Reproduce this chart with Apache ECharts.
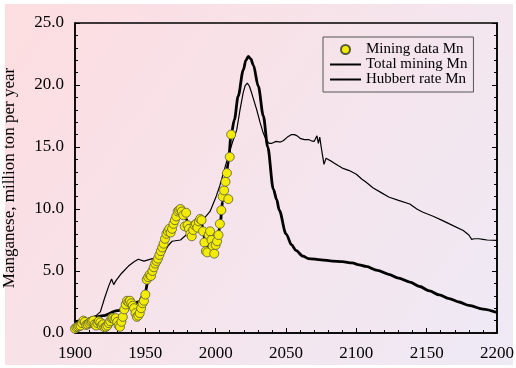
<!DOCTYPE html>
<html>
<head>
<meta charset="utf-8">
<script src="https://cdn.jsdelivr.net/npm/echarts@6/dist/echarts.min.js"></script>
<style>
html,body{margin:0;padding:0;background:#fff;}
#chart{width:516px;height:368px;}
</style>
</head>
<body>
<div id="chart"></div>
<script>
// Mining data Mn: one value per year starting at miningStartYear
const miningStartYear = 1900;
const miningValues = [
  0.35,0.45,0.5,0.55,0.6,0.8,1.0,0.9,0.65,0.7,
  0.8,0.9,0.95,1.0,0.7,0.6,0.8,0.95,0.85,0.6,
  0.7,0.45,0.5,0.6,0.8,0.95,1.2,1.2,1.1,1.2,
  0.9,0.6,0.5,0.9,1.3,1.9,2.3,2.6,2.5,2.6,
  2.4,2.2,2.0,1.6,1.3,1.4,1.6,2.0,2.4,2.6,
  3.1,4.3,4.5,4.7,4.6,5.0,5.3,5.6,5.8,6.0,
  6.3,6.6,6.9,7.2,7.6,8.0,8.2,8.4,8.1,8.4,
  8.8,9.1,9.4,9.8,9.9,10.0,9.8,9.5,8.6,9.7,
  8.7,8.4,8.0,7.8,8.3,8.7,8.8,8.5,9.0,9.2,
  9.1,8.2,7.3,6.6,6.5,7.9,8.2,7.5,7.0,6.4,
  7.1,7.4,7.9,8.8,9.9,11.0,11.5,12.2,12.9,10.8,
  14.2,16.0
];

// Total mining Mn (thin line)
const totalYears = [1900,1905,1910,1915,1918,1921,1924,1926,1927.5,1929,1933,1938,1942,1945,1949,1952,1955,1960,1963,1966,1969,1975,1980,1985,1990,1996,2000,2003,2006,2009,2012,2015,2017.3,2019.6,2021,2022.5,2024,2025.6,2029.2,2031.5,2033.9,2035.8,2038,2040,2043,2046,2048,2051,2054,2056,2058,2060,2063,2066,2068,2070,2071,2072,2073,2074,2075,2076,2077,2078.5,2080,2083,2087,2090,2095,2100,2104,2107,2112,2118,2123,2130,2138,2143,2147,2155,2161,2168,2176,2180,2182,2184,2187,2190,2193,2200];
const totalValues = [0.8,1.0,1.2,1.4,1.7,2.8,3.8,4.35,3.9,4.2,4.8,5.4,5.75,5.95,5.8,5.9,6.0,6.0,6.4,7.0,7.4,7.5,8.0,8.3,9.0,9.8,10.9,11.9,13.1,14.3,15.4,16.4,18.0,19.4,19.95,20.15,19.9,19.35,18.0,17.0,16.1,15.6,15.3,15.3,15.45,15.4,15.5,15.8,16.0,16.0,15.9,15.7,15.6,15.6,15.5,15.45,15.6,15.9,15.3,15.8,15.0,14.3,13.6,14.1,14.0,13.8,13.5,13.3,13.1,12.8,12.4,12.15,11.7,11.3,10.97,10.7,10.4,10.0,9.76,9.4,9.08,8.7,8.27,7.9,7.55,7.6,7.6,7.55,7.5,7.47];

// Hubbert rate Mn (thick line)
const hubbertYears = [1900,1910,1920,1930,1940,1945,1950,1952,1955,1960,1965,1970,1974,1976,1979,1982,1985,1989,1991,1993,1995,1997,1999,2001,2003,2005,2007,2009,2011,2013.3,2016,2019.6,2021.5,2023.2,2025,2026.8,2030.3,2033.9,2037,2041,2043.4,2045.2,2050,2054,2057,2062,2066,2075,2083,2090,2097,2102,2107,2115,2123,2130,2138,2145,2152,2159,2166,2173,2180,2190,2200];
const hubbertValues = [0.9,1.1,1.4,1.8,2.2,2.5,3.3,4.3,5.0,6.2,7.7,8.8,9.8,9.9,9.2,8.2,8.5,9.1,8.5,6.8,7.5,7.3,6.6,7.3,8.6,10.6,12.2,13.8,16.0,17.2,19.1,21.2,22.0,22.3,22.1,21.6,19.9,17.5,15.0,11.6,10.75,9.9,8.0,7.1,6.66,6.2,6.0,5.9,5.8,5.75,5.65,5.5,5.37,5.05,4.73,4.43,4.11,3.75,3.39,3.07,2.77,2.5,2.23,1.93,1.65];

const xTicks = [1900, 2200, 50];
const yTicks = [0, 25, 5];

const FONT = '"Liberation Serif", "DejaVu Serif", serif';

const miningData = miningValues.map((v, i) => [miningStartYear + i, v]);
const totalData = totalYears.map((y, i) => [y, totalValues[i]]);
const hubbertData = hubbertYears.map((y, i) => [y, hubbertValues[i]]);

const hiddenSymbol = {color: 'rgba(0,0,0,0)', borderWidth: 0, opacity: 0};

const chart = echarts.init(document.getElementById('chart'), null, {renderer: 'canvas'});
chart.setOption({
  animation: false,
  backgroundColor: '#ffffff',
  graphic: [{
    type: 'rect', z: -10, silent: true,
    shape: {x: 5, y: 4, width: 508, height: 361},
    style: {fill: new echarts.graphic.LinearGradient(0, 0, 1, 1, [
      {offset: 0, color: '#fddde0'},
      {offset: 1, color: '#eeeaf6'}
    ])}
  }],
  grid: {left: 75, top: 23, width: 422, height: 310, show: true, borderColor: '#000', borderWidth: 1.5,
         backgroundColor: 'transparent', outerBoundsMode: 'none', containLabel: false},
  legend: {
    orient: 'vertical', left: 323, top: 37,
    padding: [5, 6, 5, 6],
    borderColor: '#555', borderWidth: 1,
    itemGap: 0, itemWidth: 31, itemHeight: 9,
    textStyle: {fontFamily: FONT, fontSize: 15, color: '#000', lineHeight: 13},
    data: [
      {name: 'Mining data Mn', icon: 'circle'},
      {name: 'Total mining Mn', itemStyle: hiddenSymbol},
      {name: 'Hubbert rate Mn', itemStyle: hiddenSymbol}
    ]
  },
  xAxis: {
    type: 'value', min: xTicks[0], max: xTicks[1], interval: xTicks[2],
    axisLine: {show: true, lineStyle: {color: '#000', width: 1.5}},
    axisTick: {show: true, inside: true, length: 5, lineStyle: {color: '#000'}},
    minorTick: {show: true, splitNumber: 5, length: 3, lineStyle: {color: '#000'}},
    splitLine: {show: false},
    axisLabel: {fontFamily: FONT, fontSize: 17, color: '#000', margin: 12, formatter: v => String(v)}
  },
  yAxis: [{
    type: 'value', min: yTicks[0], max: yTicks[1], interval: yTicks[2],
    name: 'Manganese, million ton per year', nameLocation: 'middle', nameGap: 57,
    nameTextStyle: {fontFamily: FONT, fontSize: 17, color: '#000'},
    axisLine: {show: true, lineStyle: {color: '#000', width: 1.5}},
    axisTick: {show: true, inside: true, length: 5, lineStyle: {color: '#000'}},
    minorTick: {show: true, splitNumber: 5, length: 3, lineStyle: {color: '#000'}},
    splitLine: {show: false},
    axisLabel: {fontFamily: FONT, fontSize: 17, color: '#000', margin: 11, formatter: v => v.toFixed(1)}
  }, {
    type: 'value', position: 'right', min: yTicks[0], max: yTicks[1], interval: yTicks[2],
    axisLine: {show: true, lineStyle: {color: '#000', width: 1.5}},
    axisTick: {show: true, inside: true, length: 5, lineStyle: {color: '#000'}},
    minorTick: {show: true, splitNumber: 5, length: 3, lineStyle: {color: '#000'}},
    splitLine: {show: false},
    axisLabel: {show: false}
  }],
  series: [{
    name: 'Mining data Mn', type: 'scatter', z: 5,
    symbol: 'circle', symbolSize: 9,
    itemStyle: {color: '#f4ec00', borderColor: '#5a5a3a', borderWidth: 0.8, opacity: 1},
    data: miningData
  }, {
    name: 'Total mining Mn', type: 'line', symbol: 'none', z: 3,
    lineStyle: {color: '#000', width: 1.2},
    itemStyle: {color: '#000'},
    data: totalData
  }, {
    name: 'Hubbert rate Mn', type: 'line', symbol: 'none', z: 4,
    smooth: 0.3, smoothMonotone: 'x',
    lineStyle: {color: '#000', width: 2.8},
    itemStyle: {color: '#000'},
    data: hubbertData
  }]
});
</script>
</body>
</html>
